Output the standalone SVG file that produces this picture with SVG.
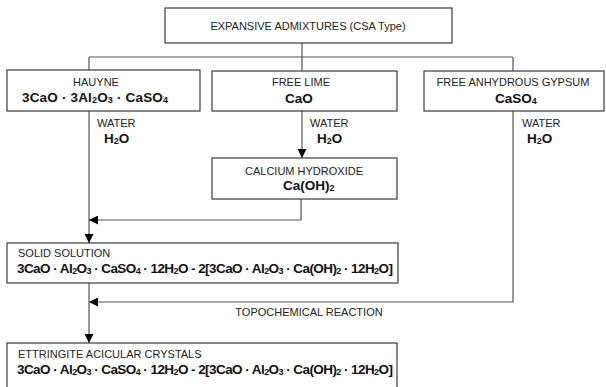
<svg xmlns="http://www.w3.org/2000/svg" width="606" height="387" viewBox="0 0 606 387">
<style>
.box{fill:#fff;stroke:#3a3a3a;stroke-width:1.2}
.ln{fill:none;stroke:#555;stroke-width:1.2}
.lbl{font-family:"Liberation Sans",Arial,sans-serif;font-size:11px;fill:#222}
.f{font-family:"Liberation Sans",Arial,sans-serif;font-size:13.5px;font-weight:bold;fill:#111}
.s{font-size:9px}
</style>
<defs>
<marker id="ah" viewBox="0 0 10 10" refX="10" refY="5" markerWidth="9" markerHeight="9" markerUnits="userSpaceOnUse" orient="auto">
<path d="M0,0 L10,5 L0,10 Z" fill="#000"/>
</marker>
</defs>
<rect width="606" height="387" fill="#fff"/>
<g id="connectors">
<path class="ln" d="M302,43 V57 M89,57 H513 M89,57 V70 M302,57 V71 M513,57 V71"/>
<path class="ln" d="M89,111 V243" marker-end="url(#ah)"/>
<path class="ln" d="M302,111 V158" marker-end="url(#ah)"/>
<path class="ln" d="M301,199 V220 H89" marker-end="url(#ah)"/>
<path class="ln" d="M513,111 V302 H89" marker-end="url(#ah)"/>
<path class="ln" d="M89,283 V343" marker-end="url(#ah)"/>
<text class="lbl" x="309" y="316" text-anchor="middle">TOPOCHEMICAL REACTION</text>
<text class="lbl" x="97" y="127">WATER</text>
<text class="f" x="104" y="143">H<tspan class="s" dy="1">2</tspan><tspan dy="-1">O</tspan></text>
<text class="lbl" x="310" y="127">WATER</text>
<text class="f" x="317" y="143">H<tspan class="s" dy="1">2</tspan><tspan dy="-1">O</tspan></text>
<text class="lbl" x="522" y="127">WATER</text>
<text class="f" x="527" y="143">H<tspan class="s" dy="1">2</tspan><tspan dy="-1">O</tspan></text>
</g>
<g id="node-top">
<rect class="box" x="165" y="8" width="287" height="35"/>
<text class="lbl" x="308" y="30" text-anchor="middle" font-size="11.5">EXPANSIVE ADMIXTURES (CSA Type)</text>
</g>
<g id="node-hauyne">
<rect class="box" x="7" y="70" width="193" height="41"/>
<text class="lbl" x="96" y="86" text-anchor="middle">HAUYNE</text>
<text class="f" x="22" y="102" font-size="14" textLength="146">3CaO · 3Al<tspan class="s" dy="1">2</tspan><tspan dy="-1">O</tspan><tspan class="s" dy="1">3</tspan><tspan dy="-1"> · CaSO</tspan><tspan class="s" dy="1">4</tspan></text>
</g>
<g id="node-lime">
<rect class="box" x="212" y="71" width="185" height="40"/>
<text class="lbl" x="301" y="86" text-anchor="middle">FREE LIME</text>
<text class="f" x="299" y="103" text-anchor="middle">CaO</text>
</g>
<g id="node-gypsum">
<rect class="box" x="424" y="71" width="180" height="40"/>
<text class="lbl" x="513" y="86" text-anchor="middle">FREE ANHYDROUS GYPSUM</text>
<text class="f" x="495" y="103">CaSO<tspan class="s" dy="1">4</tspan></text>
</g>
<g id="node-caoh">
<rect class="box" x="212" y="158" width="185" height="41"/>
<text class="lbl" x="304" y="175" text-anchor="middle">CALCIUM HYDROXIDE</text>
<text class="f" x="283" y="190">Ca(OH)<tspan class="s" dy="1">2</tspan></text>
</g>
<g id="node-solid">
<rect class="box" x="7" y="243" width="391" height="40"/>
<text class="lbl" x="18" y="257">SOLID SOLUTION</text>
<text class="f" x="17" y="273" textLength="376">3CaO · Al<tspan class="s" dy="1">2</tspan><tspan dy="-1">O</tspan><tspan class="s" dy="1">3</tspan><tspan dy="-1"> · CaSO</tspan><tspan class="s" dy="1">4</tspan><tspan dy="-1"> · 12H</tspan><tspan class="s" dy="1">2</tspan><tspan dy="-1">O - 2[3CaO · Al</tspan><tspan class="s" dy="1">2</tspan><tspan dy="-1">O</tspan><tspan class="s" dy="1">3</tspan><tspan dy="-1"> · Ca(OH)</tspan><tspan class="s" dy="1">2</tspan><tspan dy="-1"> · 12H</tspan><tspan class="s" dy="1">2</tspan><tspan dy="-1">O]</tspan></text>
</g>
<g id="node-ettringite">
<rect class="box" x="7" y="343" width="390" height="50"/>
<text class="lbl" x="18" y="358">ETTRINGITE ACICULAR CRYSTALS</text>
<text class="f" x="17" y="374" textLength="376">3CaO · Al<tspan class="s" dy="1">2</tspan><tspan dy="-1">O</tspan><tspan class="s" dy="1">3</tspan><tspan dy="-1"> · CaSO</tspan><tspan class="s" dy="1">4</tspan><tspan dy="-1"> · 12H</tspan><tspan class="s" dy="1">2</tspan><tspan dy="-1">O - 2[3CaO · Al</tspan><tspan class="s" dy="1">2</tspan><tspan dy="-1">O</tspan><tspan class="s" dy="1">3</tspan><tspan dy="-1"> · Ca(OH)</tspan><tspan class="s" dy="1">2</tspan><tspan dy="-1"> · 12H</tspan><tspan class="s" dy="1">2</tspan><tspan dy="-1">O]</tspan></text>
</g>
</svg>
